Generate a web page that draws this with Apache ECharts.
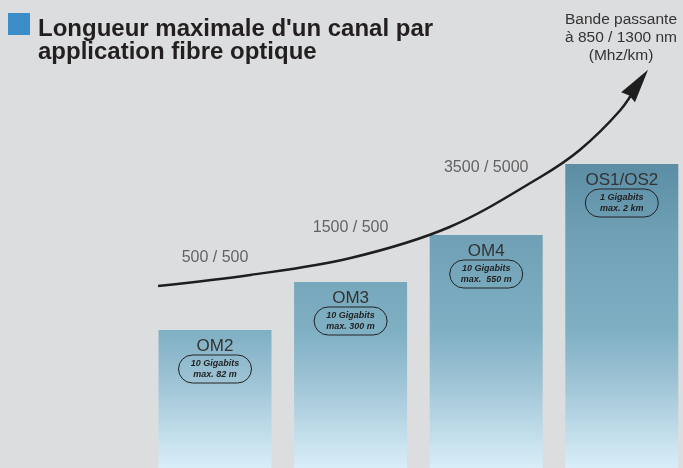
<!DOCTYPE html>
<html>
<head>
<meta charset="utf-8">
<script src="https://cdn.jsdelivr.net/npm/echarts@6/dist/echarts.min.js"></script>
<style>
  html, body { margin: 0; padding: 0; background: #dcdddf; }
  #chart { width: 683px; height: 468px; }
</style>
</head>
<body>
<div id="chart"></div>
<script>
// fibre categories and bar heights (relative scale 0-100)
const categories = ['OM2', 'OM3', 'OM4', 'OS1/OS2'];
const barHeights = [34.5, 46.5, 58.25, 76];
const speeds = ['10 Gigabits', '10 Gigabits', '10 Gigabits', '1 Gigabits'];
const maxLengths = ['max. 82 m', 'max. 300 m', 'max.  550 m', 'max. 2 km'];

// bandwidth labels along the curve
const bandwidthLabels = ['500 / 500', '1500 / 500', '3500 / 5000'];
const bandwidthLabelY = [52.5, 60, 75];

// rising curve (x in category units, y on the same scale as the bars)
const curveX = [-0.42, 0.26, 1.0, 1.73, 2.4, 2.69, 2.99, 3.12];
const curveY = [45.5, 48.25, 52.5, 60.25, 72.75, 79.5, 89.5, 96.15];

const FONT = "'Liberation Sans', Arial, sans-serif";

const chart = echarts.init(document.getElementById('chart'));

const barFill = new echarts.graphic.LinearGradient(0, 160, 0, 468, [
  { offset: 0, color: '#5a8ca4' },
  { offset: 0.24, color: '#6fa0b5' },
  { offset: 0.55, color: '#7eafc3' },
  { offset: 0.71, color: '#9cc2d4' },
  { offset: 1, color: '#d8eef8' }
], true);

const curveData = curveX.map((x, i) => {
  if (i === curveX.length - 1) {
    return {
      value: [x, curveY[i]],
      symbol: 'path://M5,0L10,20L5,18.8L0,20Z',
      symbolSize: [17, 34],
      symbolRotate: -36,
      itemStyle: { color: '#1e1e1e' }
    };
  }
  return [x, curveY[i]];
});

const option = {
  backgroundColor: '#dcdddf',
  animation: false,
  title: [
    {
      text: "Longueur maximale d'un canal par\napplication fibre optique",
      left: 38,
      top: 18,
      padding: 0,
      textStyle: {
        fontFamily: FONT,
        fontSize: 24,
        fontWeight: 'bold',
        lineHeight: 23,
        color: '#231f20'
      }
    },
    {
      text: 'Bande passante\nà 850 / 1300 nm\n(Mhz/km)',
      left: 621,
      top: 11,
      padding: 0,
      textAlign: 'center',
      textStyle: {
        fontFamily: FONT,
        fontSize: 15.5,
        fontWeight: 'normal',
        lineHeight: 18,
        color: '#333'
      }
    }
  ],
  graphic: [
    {
      type: 'rect',
      left: 8,
      top: 13,
      shape: { width: 22, height: 22 },
      style: { fill: '#3b8dc8' }
    }
  ],
  grid: { left: 147.2, width: 542.4, top: 68, bottom: 0, outerBoundsMode: 'none' },
  xAxis: [
    { type: 'category', data: categories, show: false },
    { type: 'value', min: -0.5, max: 3.5, show: false }
  ],
  yAxis: { type: 'value', min: 0, max: 100, show: false },
  series: [
    {
      type: 'bar',
      data: barHeights,
      barWidth: 113,
      itemStyle: { color: barFill },
      label: {
        show: true,
        position: 'insideTop',
        distance: 25,
        formatter: p => speeds[p.dataIndex] + '\n' + maxLengths[p.dataIndex],
        fontFamily: FONT,
        fontSize: 9,
        fontStyle: 'italic',
        fontWeight: 'bold',
        lineHeight: 11,
        color: '#222',
        width: 53,
        align: 'center',
        padding: [3, 10],
        borderColor: '#222',
        borderWidth: 1,
        borderRadius: 14
      }
    },
    {
      type: 'bar',
      data: barHeights,
      barWidth: 113,
      barGap: '-100%',
      itemStyle: { color: 'rgba(0,0,0,0)' },
      label: {
        show: true,
        position: 'insideTop',
        distance: 8,
        formatter: p => categories[p.dataIndex],
        fontFamily: FONT,
        fontSize: 17,
        color: '#333'
      }
    },
    {
      type: 'scatter',
      symbolSize: 0,
      data: bandwidthLabelY.map((y, i) => [i, y]),
      label: {
        show: true,
        position: 'inside',
        formatter: p => bandwidthLabels[p.dataIndex],
        fontFamily: FONT,
        fontSize: 16,
        color: '#444'
      }
    },
    {
      type: 'line',
      xAxisIndex: 1,
      data: curveData,
      smooth: 0.35,
      symbol: 'none',
      showSymbol: true,
      clip: false,
      lineStyle: { color: '#1e1e1e', width: 2.5 },
      itemStyle: { color: '#1e1e1e' }
    }
  ]
};

chart.setOption(option);
</script>
</body>
</html>
